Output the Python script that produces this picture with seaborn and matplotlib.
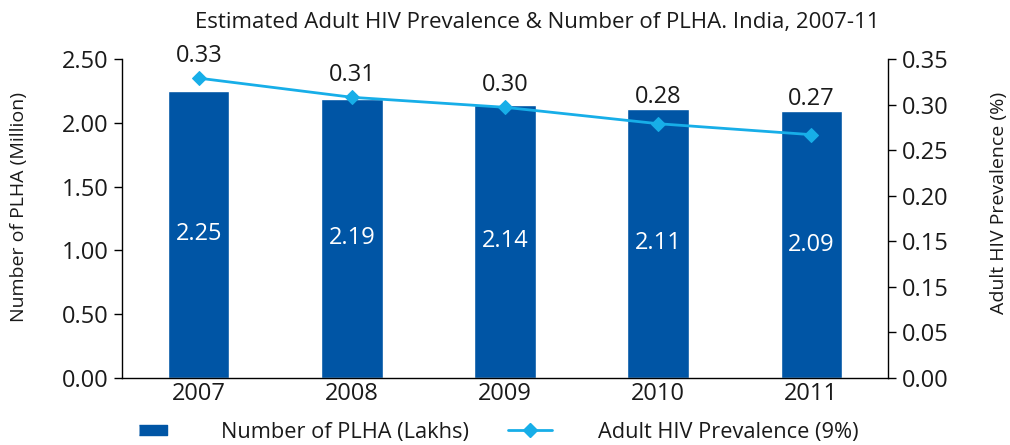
import numpy as np
import seaborn as sns
import matplotlib.pyplot as plt
from matplotlib.lines import Line2D
from matplotlib.ticker import FixedLocator

years = ['2007', '2008', '2009', '2010', '2011']
plha_million = [2.25, 2.19, 2.14, 2.11, 2.09]
hiv_prevalence = [0.329, 0.308, 0.297, 0.279, 0.267]
right_ticks = [0.00, 0.05, 0.10, 0.15, 0.20, 0.25, 0.30, 0.35]
right_tick_labels = ['0.00', '0.05', '0.15', '0.15', '0.20', '0.25', '0.30', '0.35']

BAR = '#0055a5'
LINE = '#17aee8'
TXT = '#1a1a1a'

sns.set_style('white')
plt.rcParams['font.family'] = ['Open Sans', 'DejaVu Sans']

fig = plt.figure(figsize=(10.1, 4.45), dpi=100)
ax = fig.add_axes([0.121, 0.1506, 0.758, 0.7168])

sns.barplot(x=years, y=plha_million, color=BAR, width=0.4, saturation=1, ax=ax)
ax.bar_label(ax.containers[0], fmt='%.2f', label_type='center', color='white', fontsize=17)

ax2 = ax.twinx()
sns.lineplot(x=np.arange(len(years)), y=hiv_prevalence, color=LINE, lw=2,
             marker='D', markersize=7, markeredgecolor=LINE, ax=ax2)

ax.set_xlim(-0.5, len(years) - 0.5)
ax.set_ylim(0, 2.5)
ax.set_yticks(np.arange(0, 2.51, 0.5))
ax.set_yticklabels([f'{t:.2f}' for t in np.arange(0, 2.51, 0.5)])
ax2.set_ylim(0, 0.35)
ax2.set_yticks(right_ticks)
ax2.set_yticklabels(right_tick_labels)

# value labels sit above the point, or on the bar top when the bar is higher
scale = 0.35 / 2.5
gap = 0.35 * 10 / 319
for i, (v, b) in enumerate(zip(hiv_prevalence, plha_million)):
    ax2.text(i, max(v + gap, b * scale), f'{v:.2f}', ha='center', va='bottom',
             fontsize=17, color=TXT)

# x ticks: marks at category boundaries, labels centred
ax.xaxis.set_major_locator(FixedLocator(np.arange(-0.5, len(years), 1.0)))
ax.set_xticklabels([''] * (len(years) + 1))
ax.xaxis.set_minor_locator(FixedLocator(np.arange(len(years))))
ax.set_xticklabels(years, minor=True)
ax.tick_params(axis='x', which='major', length=6, width=1, color='black', direction='out')
ax.tick_params(axis='x', which='minor', length=0, labelsize=17, labelcolor=TXT, pad=3)
ax.tick_params(axis='y', length=6, width=1, color='black', direction='out',
               labelsize=17, labelcolor=TXT, left=True, pad=4)
ax2.tick_params(axis='y', length=6, width=1, color='black', direction='out',
                labelsize=17, labelcolor=TXT, right=True, pad=4)

for a in (ax, ax2):
    a.spines['top'].set_visible(False)
    for s in ('left', 'right', 'bottom'):
        a.spines[s].set_color('black')
        a.spines[s].set_linewidth(1)
ax.spines['right'].set_visible(False)
ax2.spines['left'].set_visible(False)
ax2.spines['bottom'].set_visible(False)

ax.set_xlabel('')
ax.set_ylabel('Number of PLHA (Million)', fontsize=14, color=TXT)
ax.yaxis.set_label_coords(-0.123, 0.535)
ax2.set_ylabel('Adult HIV Prevalence (%)', fontsize=14, color=TXT)
ax2.yaxis.set_label_coords(1.134, 0.55)
if ax2.get_legend():
    ax2.get_legend().remove()

fig.text(0.532, 0.95, 'Estimated Adult HIV Prevalence & Number of PLHA. India, 2007-11',
         ha='center', va='center', fontsize=16, color=TXT)

bar_handle = Line2D([], [], ls='none', marker=[(-1.5, -0.49), (1.5, -0.49), (1.5, 0.49), (-1.5, 0.49)],
                    markersize=20, color=BAR)
line_handle = Line2D([], [], color=LINE, lw=2, marker='D', markersize=7)
fig.legend([bar_handle, line_handle],
           ['Number of PLHA (Lakhs)', 'Adult HIV Prevalence (9%)'],
           loc='center', bbox_to_anchor=(0.49, 0.028), ncol=2, frameon=False,
           fontsize=15.7, handlelength=2.0, handletextpad=2.1, columnspacing=1.8,
           labelcolor=TXT)

fig.savefig('out.png', dpi=100)
